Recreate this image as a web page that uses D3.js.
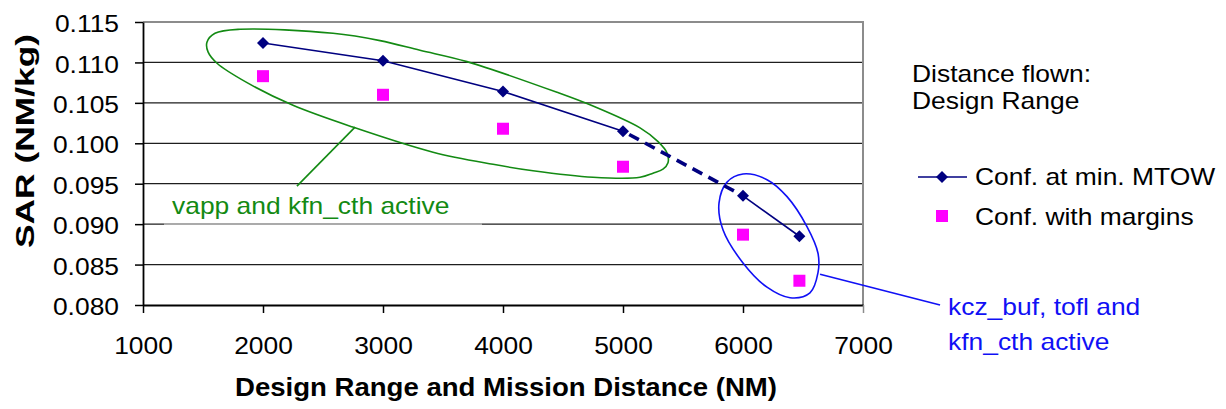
<!DOCTYPE html>
<html>
<head>
<meta charset="utf-8">
<script src="https://cdn.jsdelivr.net/npm/d3@7"></script>
<style>
  body { margin: 0; background: #fff; }
  svg { display: block; }
  text { font-family: "Liberation Sans", Arial, sans-serif; }
</style>
</head>
<body>
<svg id="chart" width="1226" height="409"></svg>
<script>
// Specific air range against design range
const distances  = [2000, 3000, 4000, 5000, 6000, 6470];
const sarMinMTOW = [0.1124, 0.1102, 0.1064, 0.1015, 0.0935, 0.0885];
const sarMargins = [0.1083, 0.1060, 0.1018, 0.0971, 0.0887, 0.0830];

const xTicks = [1000, 2000, 3000, 4000, 5000, 6000, 7000];
const yTicks = [0.080, 0.085, 0.090, 0.095, 0.100, 0.105, 0.110, 0.115];

const seriesNames = ["Conf. at min. MTOW", "Conf. with margins"];
const noteTitle = ["Distance flown:", "Design Range"];
const noteGreen = "vapp and kfn_cth active";
const noteBlue = ["kcz_buf, tofl and", "kfn_cth active"];

// Hand-drawn outlines around the active-constraint regions (distance, SAR)
const greenOutline = [
  [1533, 0.1125], [1600, 0.1136], [1808, 0.1141], [2583, 0.1136], [2975, 0.1127],
  [3308, 0.1115], [3700, 0.1101], [4450, 0.1063], [4750, 0.1046], [5142, 0.1019],
  [5292, 0.1002], [5367, 0.0988], [5375, 0.0976], [5333, 0.0968], [5250, 0.0963],
  [5142, 0.0958], [4750, 0.0958], [4250, 0.0966], [3917, 0.0974], [3417, 0.0989],
  [2750, 0.1020], [2250, 0.1047], [1867, 0.1075], [1617, 0.1099], [1542, 0.1113]
];
const greenLeader = [[2767, 0.1020], [2283, 0.0947]];
const blueOutline = [
  [6000, 0.0962], [5867, 0.0952], [5800, 0.0926], [5833, 0.0893], [6000, 0.0852],
  [6200, 0.0822], [6392, 0.0809], [6558, 0.0815], [6625, 0.0840], [6625, 0.0864],
  [6533, 0.0897], [6367, 0.0934], [6200, 0.0955]
];
const blueLeader = [[6642, 0.0838], [7642, 0.0800]];

const plot = { left: 143, right: 863, top: 22, bottom: 305 };
const navy = "#000080", magenta = "#ff00ff", green = "#138a13", blue = "#1010f5";
const FS = 24;          // body text size
const WIDEN = 1.1;      // horizontal widening of body text

const svg = d3.select("#chart");
const x = d3.scaleLinear().domain([1000, 7000]).range([plot.left, plot.right]);
const y = d3.scaleLinear().domain([0.080, 0.115]).range([plot.bottom, plot.top]);

// widen text horizontally while keeping its glyph height
function widen(sel, k = WIDEN) {
  sel.each(function () {
    const w = this.getComputedTextLength();
    d3.select(this).attr("textLength", w * k).attr("lengthAdjust", "spacingAndGlyphs");
  });
}

// horizontal gridlines
svg.append("g").selectAll("line")
  .data(yTicks.filter(v => v > 0.0801 && v < 0.1149))
  .join("line")
  .attr("x1", plot.left).attr("x2", plot.right)
  .attr("y1", d => y(d)).attr("y2", d => y(d))
  .attr("stroke", "#1e1e1e").attr("stroke-width", 1.2);

// plot frame (top and right)
svg.append("path")
  .attr("d", `M${plot.left},${y(0.115)}H${plot.right}V${plot.bottom}`)
  .attr("fill", "none").attr("stroke", "#8c8c8c").attr("stroke-width", 2);

// outlines and leaders
const outline = d3.line().x(d => x(d[0])).y(d => y(d[1])).curve(d3.curveCatmullRomClosed.alpha(0.5));
const straight = d3.line().x(d => x(d[0])).y(d => y(d[1]));

svg.append("path").attr("d", outline(greenOutline))
  .attr("fill", "none").attr("stroke", green).attr("stroke-width", 1.6);
svg.append("path").attr("d", straight(greenLeader))
  .attr("fill", "none").attr("stroke", green).attr("stroke-width", 1.6);
svg.append("path").attr("d", outline(blueOutline))
  .attr("fill", "none").attr("stroke", blue).attr("stroke-width", 1.6);
svg.append("path").attr("d", straight(blueLeader))
  .attr("fill", "none").attr("stroke", blue).attr("stroke-width", 1.6);

// label box for the green note
svg.append("rect").attr("x", 164).attr("y", 187).attr("width", 318).attr("height", 36)
  .attr("fill", "#fff");
svg.append("line").attr("x1", 164).attr("x2", 482).attr("y1", y(0.090)).attr("y2", y(0.090))
  .attr("stroke", "#dcdcdc").attr("stroke-width", 1);
svg.append("text").attr("x", 172).attr("y", 214)
  .attr("font-size", FS).attr("fill", green).text(noteGreen).call(widen);

svg.append("g").selectAll("text").data(noteBlue).join("text")
  .attr("x", 948).attr("y", (d, i) => 315 + i * 35)
  .attr("font-size", FS).attr("fill", blue).text(d => d).call(widen);

// series line: solid, dashed bridge, solid
const pts = distances.map((d, i) => [d, sarMinMTOW[i]]);
const seriesLine = d3.line().x(d => x(d[0])).y(d => y(d[1]));
svg.append("path").attr("d", seriesLine(pts.slice(0, 4)))
  .attr("fill", "none").attr("stroke", navy).attr("stroke-width", 1.6);
svg.append("path").attr("d", seriesLine(pts.slice(3, 5)))
  .attr("fill", "none").attr("stroke", navy).attr("stroke-width", 3.6)
  .attr("stroke-dasharray", "11,7").attr("stroke-dashoffset", -7);
svg.append("path").attr("d", seriesLine(pts.slice(4, 6)))
  .attr("fill", "none").attr("stroke", navy).attr("stroke-width", 1.6);

// square diamond marker
const dr = 6;
const diamond = `M0,${-dr}L${dr},0L0,${dr}L${-dr},0Z`;
svg.append("g").selectAll("path").data(pts).join("path")
  .attr("transform", d => `translate(${x(d[0])},${y(d[1])})`)
  .attr("d", diamond).attr("fill", navy);

const sq = 12;
svg.append("g").selectAll("rect").data(distances.map((d, i) => [d, sarMargins[i]])).join("rect")
  .attr("x", d => x(d[0]) - sq / 2).attr("y", d => y(d[1]) - sq / 2)
  .attr("width", sq).attr("height", sq).attr("fill", magenta);

// axes
const yAxis = d3.axisLeft(y).tickValues(yTicks).tickFormat(d3.format(".3f"))
  .tickSize(8).tickSizeOuter(0).tickPadding(16);
const gy = svg.append("g").attr("transform", `translate(${plot.left},0)`).call(yAxis);
gy.select(".domain").attr("stroke", "#000").attr("stroke-width", 1.8);
gy.selectAll(".tick line").attr("stroke", "#000").attr("stroke-width", 1.5);
gy.selectAll(".tick text").attr("font-size", FS).attr("font-family", "Liberation Sans, Arial, sans-serif")
  .attr("fill", "#000").attr("dy", "0.4em").call(widen);

const xAxis = d3.axisBottom(x).tickValues(xTicks).tickFormat(d3.format("d"))
  .tickSize(8).tickSizeOuter(0).tickPadding(24);
const gx = svg.append("g").attr("transform", `translate(0,${plot.bottom})`).call(xAxis);
gx.select(".domain").attr("stroke", "#000").attr("stroke-width", 1.8);
gx.selectAll(".tick line").attr("stroke", d => d === 7000 ? "#8c8c8c" : "#000").attr("stroke-width", 1.5);
gx.selectAll(".tick text").attr("font-size", FS).attr("font-family", "Liberation Sans, Arial, sans-serif")
  .attr("fill", "#000").call(widen);

// axis titles
svg.append("text").attr("x", 506).attr("y", 396).attr("text-anchor", "middle")
  .attr("font-size", 25).attr("font-weight", "bold")
  .attr("textLength", 542).attr("lengthAdjust", "spacingAndGlyphs")
  .text("Design Range and Mission Distance (NM)");
svg.append("text").attr("transform", "translate(34,141) rotate(-90)").attr("text-anchor", "middle")
  .attr("font-size", 25).attr("font-weight", "bold")
  .attr("textLength", 214).attr("lengthAdjust", "spacingAndGlyphs").text("SAR (NM/kg)");

// legend
svg.append("g").selectAll("text").data(noteTitle).join("text")
  .attr("x", 912).attr("y", (d, i) => 82 + i * 27)
  .attr("font-size", FS).attr("fill", "#000").text(d => d).call(widen);

const lg = svg.append("g");
lg.append("line").attr("x1", 918).attr("x2", 967).attr("y1", 177).attr("y2", 177)
  .attr("stroke", navy).attr("stroke-width", 1.6);
lg.append("path").attr("transform", "translate(942,177)").attr("d", diamond).attr("fill", navy);
lg.append("rect").attr("x", 936).attr("y", 210).attr("width", sq).attr("height", sq).attr("fill", magenta);
lg.selectAll("text").data(seriesNames).join("text")
  .attr("x", 975).attr("y", (d, i) => 185 + i * 40)
  .attr("font-size", FS).attr("fill", "#000").text(d => d).call(widen);
</script>
</body>
</html>
